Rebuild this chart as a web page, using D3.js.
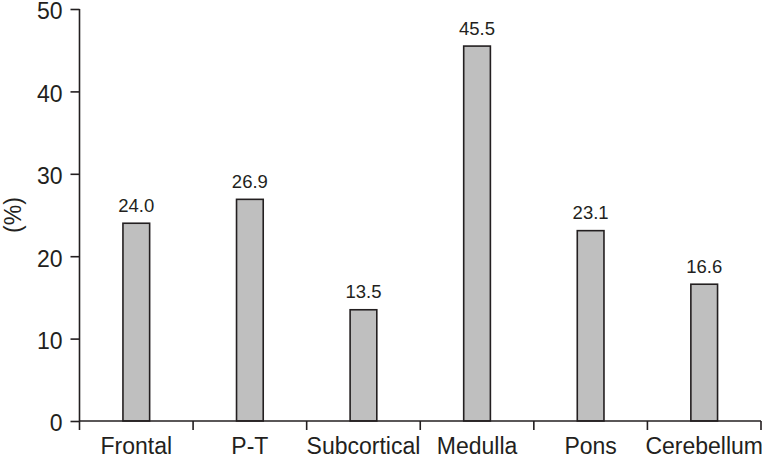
<!DOCTYPE html>
<html>
  <head>
    <meta charset="UTF-8">
    <title>Percentage by region</title>
    <style>
      body { margin: 0; background: #fff; }
      text { font-family: "Liberation Sans", Arial, sans-serif; fill: #231f20; }
    </style>
  </head>
  <body>
    <div id="chart"></div>
    <script src="https://d3js.org/d3.v7.min.js"></script>
    <script>

// data
var regions = ["Frontal", "P-T", "Subcortical", "Medulla", "Pons", "Cerebellum"];
var percents = [24.0, 26.9, 13.5, 45.5, 23.1, 16.6];
var yTicks = [0, 10, 20, 30, 40, 50];

var width = 762, height = 457;
var margin = {top: 9, right: 1, bottom: 36, left: 79.5};
var ink = "#231f20";

var svg = d3.select("#chart").append("svg")
    .attr("width", width)
    .attr("height", height);

var x = d3.scaleBand()
    .domain(regions)
    .range([margin.left, width - margin.right]);

var y = d3.scaleLinear()
    .domain([0, 50])
    .range([height - margin.bottom, margin.top]);

var barW = x.bandwidth() * 0.235;

// bars
svg.selectAll(".bar")
    .data(percents)
  .enter().append("rect")
    .attr("class", "bar")
    .attr("x", function(d, i) { return x(regions[i]) + x.bandwidth() / 2 - barW / 2; })
    .attr("y", function(d) { return y(d); })
    .attr("width", barW)
    .attr("height", function(d) { return y(0) - y(d); })
    .attr("fill", "#bfbfbf")
    .attr("stroke", ink)
    .attr("stroke-width", 1.6);

// value labels
svg.selectAll(".val")
    .data(percents)
  .enter().append("text")
    .attr("class", "val")
    .attr("x", function(d, i) { return x(regions[i]) + x.bandwidth() / 2; })
    .attr("y", function(d) { return y(d) - 11.5; })
    .attr("text-anchor", "middle")
    .style("font-size", "18.5px")
    .text(function(d) { return d.toFixed(1); });

// y axis
var yAxis = svg.append("g")
    .attr("transform", "translate(" + margin.left + ",0)")
    .call(d3.axisLeft(y).tickValues(yTicks).tickSize(9).tickPadding(8).tickFormat(d3.format("d")));
yAxis.selectAll("path, line").attr("stroke", ink).attr("stroke-width", 1.6);
yAxis.select(".domain").attr("d", "M0," + y(50) + "V" + y(0));
yAxis.selectAll("text").style("font-size", "23px").attr("dy", "0.43em");

// x axis with ticks at category boundaries
var xAxis = svg.append("g")
    .attr("transform", "translate(0," + y(0) + ")");
xAxis.append("path")
    .attr("d", "M" + margin.left + ",0H" + (width - margin.right))
    .attr("stroke", ink)
    .attr("stroke-width", 1.6);
var bounds = regions.map(function(r) { return x(r); }).concat([x(regions[regions.length - 1]) + x.bandwidth()]);
xAxis.selectAll(".bound")
    .data(bounds)
  .enter().append("line")
    .attr("class", "bound")
    .attr("x1", function(d) { return d; })
    .attr("x2", function(d) { return d; })
    .attr("y1", 0)
    .attr("y2", 9)
    .attr("stroke", ink)
    .attr("stroke-width", 1.6);
xAxis.selectAll(".cat")
    .data(regions)
  .enter().append("text")
    .attr("class", "cat")
    .attr("x", function(d) { return x(d) + x.bandwidth() / 2; })
    .attr("y", 32.5)
    .attr("text-anchor", "middle")
    .style("font-size", "23px")
    .text(function(d) { return d; });

// y axis title
svg.append("text")
    .attr("transform", "translate(21," + ((y(0) + y(50)) / 2) + ") rotate(-90)")
    .attr("text-anchor", "middle")
    .style("font-size", "23px")
    .text("(%)");

    </script>
  </body>
</html>
